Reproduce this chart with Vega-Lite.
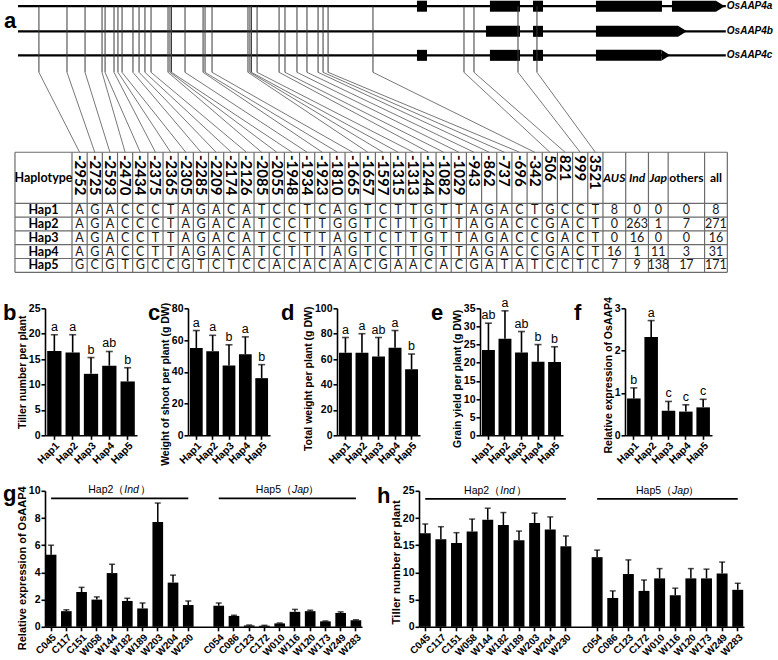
{
"$schema":"https://vega.github.io/schema/vega-lite/v6.json",
"padding":{"left":3,"top":0,"right":0,"bottom":0},
"background":"white",
"config":{"view":{"stroke":null},
 "axis":{"labelFont":"Liberation Sans","titleFont":"Liberation Sans","labelFontWeight":"bold","titleFontWeight":"bold","labelColor":"black","titleColor":"black","domainColor":"black","tickColor":"black","domainWidth":1.6,"tickWidth":1.6,"tickSize":4,"grid":false,"labelFontSize":10.5,"titleFontSize":10.5,"titlePadding":1,"labelPadding":1},
 "text":{"font":"Liberation Sans","color":"black"}},
"datasets":{
 "genes":[{"gene":"OsAAP4a","track":-13.78,"start":-3.06,"end":43.6},{"gene":"OsAAP4b","track":-11.96,"start":-3.06,"end":43.6},{"gene":"OsAAP4c","track":-10.22,"start":-3.06,"end":43.6}],
 "exons":[{"gene":"a","track":-13.78,"start":23.24,"end":23.9},{"gene":"a","track":-13.78,"start":28.05,"end":30.03},{"gene":"a","track":-13.78,"start":30.89,"end":31.55},{"gene":"a","track":-13.78,"start":35.04,"end":39.39},{"gene":"a","track":-13.78,"start":40.05,"end":42.95},
  {"gene":"b","track":-11.96,"start":27.79,"end":30.03},{"gene":"b","track":-11.96,"start":30.89,"end":31.55},{"gene":"b","track":-11.96,"start":35.04,"end":40.45},
  {"gene":"c","track":-10.22,"start":23.24,"end":23.9},{"gene":"c","track":-10.22,"start":28.05,"end":30.03},{"gene":"c","track":-10.22,"start":30.89,"end":31.55},{"gene":"c","track":-10.22,"start":35.04,"end":39.35}],
 "tips":[{"gene":"a","track":-13.78,"base":42.95},{"gene":"b","track":-11.96,"base":40.45},{"gene":"c","track":-10.22,"base":39.35}],
 "snps":[
  {"col":1,"snp":"-2952","diag":-1.68,"Hap1":"A","Hap2":"A","Hap3":"A","Hap4":"A","Hap5":"G"},
  {"col":2,"snp":"-2725","diag":0.17,"Hap1":"G","Hap2":"G","Hap3":"G","Hap4":"G","Hap5":"C"},
  {"col":3,"snp":"-2593","diag":1.36,"Hap1":"A","Hap2":"A","Hap3":"A","Hap4":"A","Hap5":"G"},
  {"col":4,"snp":"-2470","diag":2.48,"Hap1":"C","Hap2":"C","Hap3":"C","Hap4":"C","Hap5":"T"},
  {"col":5,"snp":"-2434","diag":2.68,"Hap1":"C","Hap2":"C","Hap3":"C","Hap4":"C","Hap5":"G"},
  {"col":6,"snp":"-2375","diag":3.27,"Hap1":"C","Hap2":"C","Hap3":"T","Hap4":"T","Hap5":"C"},
  {"col":7,"snp":"-2365","diag":3.53,"Hap1":"T","Hap2":"T","Hap3":"T","Hap4":"T","Hap5":"C"},
  {"col":8,"snp":"-2305","diag":3.8,"Hap1":"A","Hap2":"A","Hap3":"A","Hap4":"A","Hap5":"G"},
  {"col":9,"snp":"-2285","diag":4.52,"Hap1":"G","Hap2":"G","Hap3":"G","Hap4":"G","Hap5":"T"},
  {"col":10,"snp":"-2209","diag":4.92,"Hap1":"A","Hap2":"A","Hap3":"A","Hap4":"A","Hap5":"C"},
  {"col":11,"snp":"-2174","diag":5.31,"Hap1":"C","Hap2":"C","Hap3":"C","Hap4":"C","Hap5":"T"},
  {"col":12,"snp":"-2126","diag":5.71,"Hap1":"A","Hap2":"A","Hap3":"A","Hap4":"A","Hap5":"C"},
  {"col":13,"snp":"-2085","diag":6.83,"Hap1":"T","Hap2":"T","Hap3":"T","Hap4":"T","Hap5":"C"},
  {"col":14,"snp":"-2055","diag":6.96,"Hap1":"C","Hap2":"C","Hap3":"C","Hap4":"C","Hap5":"A"},
  {"col":15,"snp":"-1948","diag":7.06,"Hap1":"C","Hap2":"C","Hap3":"C","Hap4":"T","Hap5":"C"},
  {"col":16,"snp":"-1934","diag":7.95,"Hap1":"T","Hap2":"T","Hap3":"T","Hap4":"T","Hap5":"A"},
  {"col":17,"snp":"-1923","diag":9.14,"Hap1":"C","Hap2":"T","Hap3":"T","Hap4":"T","Hap5":"C"},
  {"col":18,"snp":"-1810","diag":9.27,"Hap1":"A","Hap2":"G","Hap3":"A","Hap4":"A","Hap5":"A"},
  {"col":19,"snp":"-1665","diag":9.73,"Hap1":"G","Hap2":"G","Hap3":"G","Hap4":"G","Hap5":"A"},
  {"col":20,"snp":"-1657","diag":12.1,"Hap1":"T","Hap2":"T","Hap3":"T","Hap4":"T","Hap5":"C"},
  {"col":21,"snp":"-1597","diag":12.23,"Hap1":"C","Hap2":"C","Hap3":"C","Hap4":"C","Hap5":"G"},
  {"col":22,"snp":"-1315","diag":12.33,"Hap1":"T","Hap2":"T","Hap3":"T","Hap4":"T","Hap5":"A"},
  {"col":23,"snp":"-1313","diag":12.7,"Hap1":"T","Hap2":"T","Hap3":"T","Hap4":"T","Hap5":"A"},
  {"col":24,"snp":"-1244","diag":14.15,"Hap1":"G","Hap2":"G","Hap3":"G","Hap4":"G","Hap5":"C"},
  {"col":25,"snp":"-1082","diag":14.54,"Hap1":"T","Hap2":"T","Hap3":"T","Hap4":"T","Hap5":"A"},
  {"col":26,"snp":"-1029","diag":15.33,"Hap1":"T","Hap2":"T","Hap3":"T","Hap4":"T","Hap5":"C"},
  {"col":27,"snp":"-943","diag":15.99,"Hap1":"A","Hap2":"A","Hap3":"A","Hap4":"A","Hap5":"G"},
  {"col":28,"snp":"-862","diag":16.72,"Hap1":"G","Hap2":"G","Hap3":"G","Hap4":"G","Hap5":"A"},
  {"col":29,"snp":"-737","diag":17.05,"Hap1":"A","Hap2":"A","Hap3":"A","Hap4":"A","Hap5":"T"},
  {"col":30,"snp":"-696","diag":17.38,"Hap1":"C","Hap2":"C","Hap3":"C","Hap4":"C","Hap5":"A"},
  {"col":31,"snp":"-342","diag":20.34,"Hap1":"T","Hap2":"C","Hap3":"C","Hap4":"C","Hap5":"T"},
  {"col":32,"snp":"506","diag":26.34,"Hap1":"G","Hap2":"G","Hap3":"G","Hap4":"G","Hap5":"C"},
  {"col":33,"snp":"821","diag":27.0,"Hap1":"C","Hap2":"A","Hap3":"A","Hap4":"A","Hap5":"C"},
  {"col":34,"snp":"999","diag":29.9,"Hap1":"C","Hap2":"C","Hap3":"C","Hap4":"C","Hap5":"T"},
  {"col":35,"snp":"3521","diag":31.15,"Hap1":"T","Hap2":"T","Hap3":"T","Hap4":"T","Hap5":"C"}],
 "haps":[{"hap":"Hap1","row":1},{"hap":"Hap2","row":2},{"hap":"Hap3","row":3},{"hap":"Hap4","row":4},{"hap":"Hap5","row":5}],
 "groups":[{"group":"AUS","col":36.25,"italic":true},{"group":"Ind","col":37.75,"italic":true},{"group":"Jap","col":39.15,"italic":true},{"group":"others","col":41.0,"italic":false},{"group":"all","col":42.95,"italic":false}],
 "counts":[{"hap":"Hap1","row":1,"AUS":8,"Ind":0,"Jap":0,"others":0,"all":8},{"hap":"Hap2","row":2,"AUS":0,"Ind":263,"Jap":1,"others":7,"all":271},{"hap":"Hap3","row":3,"AUS":0,"Ind":16,"Jap":0,"others":0,"all":16},{"hap":"Hap4","row":4,"AUS":16,"Ind":1,"Jap":11,"others":3,"all":31},{"hap":"Hap5","row":5,"AUS":7,"Ind":9,"Jap":138,"others":17,"all":171}],
 "vbounds":[{"b":-3.26},{"b":0.5},{"b":1.5},{"b":2.5},{"b":3.5},{"b":4.5},{"b":5.5},{"b":6.5},{"b":7.5},{"b":8.5},{"b":9.5},{"b":10.5},{"b":11.5},{"b":12.5},{"b":13.5},{"b":14.5},{"b":15.5},{"b":16.5},{"b":17.5},{"b":18.5},{"b":19.5},{"b":20.5},{"b":21.5},{"b":22.5},{"b":23.5},{"b":24.5},{"b":25.5},{"b":26.5},{"b":27.5},{"b":28.5},{"b":29.5},{"b":30.5},{"b":31.5},{"b":32.5},{"b":33.5},{"b":34.5},{"b":35.5},{"b":37.0},{"b":38.5},{"b":39.8},{"b":42.2},{"b":43.7}],
 "hbounds":[{"b":-3.2},{"b":0.5},{"b":1.5},{"b":2.5},{"b":3.5},{"b":4.5},{"b":5.5}],
 "gg":[{"left":"Hap2（","it":"Ind","from":"C045","to":"W230","mid":"W144"},{"left":"Hap5（","it":"Jap","from":"C054","to":"W283","mid":"W010"}]
},
"vconcat":[
 {"width":733,"height":273,
  "layer":[
   {"data":{"name":"genes"},"mark":{"type":"rule","color":"black","strokeWidth":2.2},
    "encoding":{"x":{"field":"start","type":"quantitative","scale":{"domain":[-1.28,47.04],"nice":false,"zero":false},"axis":null},"x2":{"field":"end"},
     "y":{"field":"track","type":"quantitative","scale":{"domain":[-14.23,5.55],"reverse":true,"nice":false,"zero":false},"axis":null}}},
   {"data":{"name":"genes"},"mark":{"type":"text","align":"left","baseline":"middle","dx":1,"fontSize":10,"fontStyle":"italic","fontWeight":"bold"},
    "encoding":{"x":{"field":"end","type":"quantitative","scale":{"domain":[-1.28,47.04],"nice":false,"zero":false},"axis":null},
     "y":{"field":"track","type":"quantitative","scale":{"domain":[-14.23,5.55],"reverse":true,"nice":false,"zero":false},"axis":null},"text":{"field":"gene"}}},
   {"data":{"name":"exons"},"mark":{"type":"rule","color":"black","strokeWidth":11,"strokeCap":"butt"},
    "encoding":{"x":{"field":"start","type":"quantitative","scale":{"domain":[-1.28,47.04],"nice":false,"zero":false},"axis":null},"x2":{"field":"end"},
     "y":{"field":"track","type":"quantitative","scale":{"domain":[-14.23,5.55],"reverse":true,"nice":false,"zero":false},"axis":null}}},
   {"data":{"name":"tips"},"mark":{"type":"point","shape":"M0,-1L1.6,0L0,1Z","size":121,"filled":true,"color":"black","opacity":1,"strokeWidth":0},
    "encoding":{"x":{"field":"base","type":"quantitative","scale":{"domain":[-1.28,47.04],"nice":false,"zero":false},"axis":null},
     "y":{"field":"track","type":"quantitative","scale":{"domain":[-14.23,5.55],"reverse":true,"nice":false,"zero":false},"axis":null}}},
   {"data":{"name":"snps"},"mark":{"type":"rule","color":"#3a3a3a","strokeWidth":1},
    "encoding":{"x":{"field":"diag","type":"quantitative","scale":{"domain":[-1.28,47.04],"nice":false,"zero":false},"axis":null},
     "y":{"datum":-13.78,"type":"quantitative","scale":{"domain":[-14.23,5.55],"reverse":true,"nice":false,"zero":false},"axis":null},"y2":{"datum":-8.99}}},
   {"data":{"name":"snps"},"mark":{"type":"rule","color":"#555555","strokeWidth":0.8},
    "encoding":{"x":{"field":"diag","type":"quantitative","scale":{"domain":[-1.28,47.04],"nice":false,"zero":false},"axis":null},"x2":{"field":"col"},
     "y":{"datum":-8.99,"type":"quantitative","scale":{"domain":[-14.23,5.55],"reverse":true,"nice":false,"zero":false},"axis":null},"y2":{"datum":-3.2}}},
   {"data":{"name":"vbounds"},"mark":{"type":"rule","color":"#6b6b6b","strokeWidth":1.2},
    "encoding":{"x":{"field":"b","type":"quantitative","scale":{"domain":[-1.28,47.04],"nice":false,"zero":false},"axis":null},
     "y":{"datum":-3.2,"type":"quantitative","scale":{"domain":[-14.23,5.55],"reverse":true,"nice":false,"zero":false},"axis":null},"y2":{"datum":5.5}}},
   {"data":{"name":"hbounds"},"mark":{"type":"rule","color":"#6b6b6b","strokeWidth":1.2},
    "encoding":{"y":{"field":"b","type":"quantitative","scale":{"domain":[-14.23,5.55],"reverse":true,"nice":false,"zero":false},"axis":null},
     "x":{"datum":-3.26,"type":"quantitative","scale":{"domain":[-1.28,47.04],"nice":false,"zero":false},"axis":null},"x2":{"datum":43.7}}},
   {"data":{"name":"snps"},"mark":{"type":"text","angle":90,"align":"left","baseline":"middle","font":"Lato","fontWeight":"bold","fontSize":15},
    "encoding":{"x":{"field":"col","type":"quantitative","scale":{"domain":[-1.28,47.04],"nice":false,"zero":false},"axis":null},
     "y":{"datum":-3.0,"type":"quantitative","scale":{"domain":[-14.23,5.55],"reverse":true,"nice":false,"zero":false},"axis":null},"text":{"field":"snp"}}},
   {"data":{"name":"snps"},
    "transform":[{"fold":["Hap1","Hap2","Hap3","Hap4","Hap5"],"as":["hap","base"]},{"lookup":"hap","from":{"data":{"name":"haps"},"key":"hap","fields":["row"]}}],
    "mark":{"type":"text","align":"center","baseline":"middle","font":"Lato","fontSize":12.5,"color":"#1a1a1a"},
    "encoding":{"x":{"field":"col","type":"quantitative","scale":{"domain":[-1.28,47.04],"nice":false,"zero":false},"axis":null},
     "y":{"field":"row","type":"quantitative","scale":{"domain":[-14.23,5.55],"reverse":true,"nice":false,"zero":false},"axis":null},"text":{"field":"base"}}},
   {"data":{"values":[{}]},"mark":{"type":"text","text":"Haplotype","align":"center","baseline":"middle","font":"Lato","fontWeight":"bold","fontSize":12.5},
    "encoding":{"x":{"datum":-1.38,"type":"quantitative","scale":{"domain":[-1.28,47.04],"nice":false,"zero":false},"axis":null},
     "y":{"datum":-1.35,"type":"quantitative","scale":{"domain":[-14.23,5.55],"reverse":true,"nice":false,"zero":false},"axis":null}}},
   {"data":{"name":"haps"},"mark":{"type":"text","align":"center","baseline":"middle","font":"Lato","fontWeight":"bold","fontSize":12.5},
    "encoding":{"x":{"datum":-1.38,"type":"quantitative","scale":{"domain":[-1.28,47.04],"nice":false,"zero":false},"axis":null},
     "y":{"field":"row","type":"quantitative","scale":{"domain":[-14.23,5.55],"reverse":true,"nice":false,"zero":false},"axis":null},"text":{"field":"hap"}}},
   {"data":{"name":"groups"},"transform":[{"filter":"datum.italic"}],"mark":{"type":"text","align":"center","baseline":"middle","font":"Lato","fontWeight":"bold","fontStyle":"italic","fontSize":12},
    "encoding":{"x":{"field":"col","type":"quantitative","scale":{"domain":[-1.28,47.04],"nice":false,"zero":false},"axis":null},
     "y":{"datum":-1.35,"type":"quantitative","scale":{"domain":[-14.23,5.55],"reverse":true,"nice":false,"zero":false},"axis":null},"text":{"field":"group"}}},
   {"data":{"name":"groups"},"transform":[{"filter":"!datum.italic"}],"mark":{"type":"text","align":"center","baseline":"middle","font":"Lato","fontWeight":"bold","fontSize":12},
    "encoding":{"x":{"field":"col","type":"quantitative","scale":{"domain":[-1.28,47.04],"nice":false,"zero":false},"axis":null},
     "y":{"datum":-1.35,"type":"quantitative","scale":{"domain":[-14.23,5.55],"reverse":true,"nice":false,"zero":false},"axis":null},"text":{"field":"group"}}},
   {"data":{"name":"counts"},
    "transform":[{"fold":["AUS","Ind","Jap","others","all"],"as":["group","n"]},{"lookup":"group","from":{"data":{"name":"groups"},"key":"group","fields":["col"]}}],
    "mark":{"type":"text","align":"center","baseline":"middle","font":"Lato","fontSize":12.5,"color":"#1a1a1a"},
    "encoding":{"x":{"field":"col","type":"quantitative","scale":{"domain":[-1.28,47.04],"nice":false,"zero":false},"axis":null},
     "y":{"field":"row","type":"quantitative","scale":{"domain":[-14.23,5.55],"reverse":true,"nice":false,"zero":false},"axis":null},"text":{"field":"n"}}},
   {"data":{"values":[{}]},"mark":{"type":"text","text":"a","align":"left","baseline":"alphabetic","fontSize":22,"fontWeight":"bold"},
    "encoding":{"x":{"datum":-3.98,"type":"quantitative","scale":{"domain":[-1.28,47.04],"nice":false,"zero":false},"axis":null},
     "y":{"datum":-12.18,"type":"quantitative","scale":{"domain":[-14.23,5.55],"reverse":true,"nice":false,"zero":false},"axis":null}}}
  ]},
 {"vconcat":[
 {"hconcat":[
  {"width":92,"height":127,
   "data":{"values":[{"hap":"Hap1","mean":16.6,"upper":19.8,"letter":"a"},{"hap":"Hap2","mean":16.3,"upper":19.8,"letter":"a"},{"hap":"Hap3","mean":12.1,"upper":15.3,"letter":"b"},{"hap":"Hap4","mean":13.7,"upper":16.5,"letter":"ab"},{"hap":"Hap5","mean":10.6,"upper":13.3,"letter":"b"}]},
   "layer":[
    {"mark":{"type":"bar","color":"black"},"encoding":{"x":{"field":"hap","type":"nominal","sort":null,"title":null,"scale":{"paddingInner":0.22,"paddingOuter":0.12},"axis":{"labelAngle":-45}},"y":{"field":"mean","type":"quantitative","scale":{"domain":[0,25],"nice":false},"axis":{"values":[0,5,10,15,20,25],"title":"Tiller number per plant"}}}},
    {"mark":{"type":"rule","color":"black","strokeWidth":1.6},"encoding":{"x":{"field":"hap","type":"nominal","sort":null,"title":null},"y":{"field":"mean","type":"quantitative","scale":{"domain":[0,25],"nice":false},"axis":{"values":[0,5,10,15,20,25],"title":"Tiller number per plant"}},"y2":{"field":"upper"}}},
    {"mark":{"type":"tick","color":"black","thickness":1.6,"size":7},"encoding":{"x":{"field":"hap","type":"nominal","sort":null,"title":null},"y":{"field":"upper","type":"quantitative","scale":{"domain":[0,25],"nice":false},"axis":{"values":[0,5,10,15,20,25],"title":"Tiller number per plant"}}}},
    {"mark":{"type":"text","baseline":"bottom","dy":-1,"fontSize":12.5},"encoding":{"x":{"field":"hap","type":"nominal","sort":null,"title":null},"y":{"field":"upper","type":"quantitative","scale":{"domain":[0,25],"nice":false},"axis":{"values":[0,5,10,15,20,25],"title":"Tiller number per plant"}},"text":{"field":"letter"}}},
    {"data":{"values":[{}]},"mark":{"type":"text","text":"b","align":"left","baseline":"alphabetic","dx":-51.3,"dy":12,"fontSize":22,"fontWeight":"bold"},"encoding":{"x":{"datum":"Hap1","type":"nominal","title":null},"y":{"datum":25,"type":"quantitative","scale":{"domain":[0,25],"nice":false},"axis":{"values":[0,5,10,15,20,25],"title":"Tiller number per plant"}}}}
   ]},
  {"width":82,"height":127,
   "data":{"values":[{"hap":"Hap1","mean":55,"upper":66,"letter":"a"},{"hap":"Hap2","mean":53,"upper":63,"letter":"a"},{"hap":"Hap3","mean":44,"upper":57,"letter":"b"},{"hap":"Hap4","mean":51,"upper":62,"letter":"a"},{"hap":"Hap5","mean":36,"upper":44.5,"letter":"b"}]},
   "layer":[
    {"mark":{"type":"bar","color":"black"},"encoding":{"x":{"field":"hap","type":"nominal","sort":null,"title":null,"scale":{"paddingInner":0.22,"paddingOuter":0.12},"axis":{"labelAngle":-45}},"y":{"field":"mean","type":"quantitative","scale":{"domain":[0,80],"nice":false},"axis":{"values":[0,20,40,60,80],"title":"Weight of shoot per plant (g DW)","titleY":75.5}}}},
    {"mark":{"type":"rule","color":"black","strokeWidth":1.6},"encoding":{"x":{"field":"hap","type":"nominal","sort":null,"title":null},"y":{"field":"mean","type":"quantitative","scale":{"domain":[0,80],"nice":false},"axis":{"values":[0,20,40,60,80],"title":"Weight of shoot per plant (g DW)","titleY":75.5}},"y2":{"field":"upper"}}},
    {"mark":{"type":"tick","color":"black","thickness":1.6,"size":7},"encoding":{"x":{"field":"hap","type":"nominal","sort":null,"title":null},"y":{"field":"upper","type":"quantitative","scale":{"domain":[0,80],"nice":false},"axis":{"values":[0,20,40,60,80],"title":"Weight of shoot per plant (g DW)","titleY":75.5}}}},
    {"mark":{"type":"text","baseline":"bottom","dy":-1,"fontSize":12.5},"encoding":{"x":{"field":"hap","type":"nominal","sort":null,"title":null},"y":{"field":"upper","type":"quantitative","scale":{"domain":[0,80],"nice":false},"axis":{"values":[0,20,40,60,80],"title":"Weight of shoot per plant (g DW)","titleY":75.5}},"text":{"field":"letter"}}},
    {"data":{"values":[{}]},"mark":{"type":"text","text":"c","align":"left","baseline":"alphabetic","dx":-48.3,"dy":12,"fontSize":22,"fontWeight":"bold"},"encoding":{"x":{"datum":"Hap1","type":"nominal","title":null},"y":{"datum":80,"type":"quantitative","scale":{"domain":[0,80],"nice":false},"axis":{"values":[0,20,40,60,80],"title":"Weight of shoot per plant (g DW)","titleY":75.5}}}}
   ]},
  {"width":83,"height":127,
   "data":{"values":[{"hap":"Hap1","mean":65,"upper":77,"letter":"a"},{"hap":"Hap2","mean":65,"upper":80,"letter":"a"},{"hap":"Hap3","mean":62,"upper":77,"letter":"ab"},{"hap":"Hap4","mean":69,"upper":82.5,"letter":"a"},{"hap":"Hap5","mean":52,"upper":64,"letter":"b"}]},
   "layer":[
    {"mark":{"type":"bar","color":"black"},"encoding":{"x":{"field":"hap","type":"nominal","sort":null,"title":null,"scale":{"paddingInner":0.22,"paddingOuter":0.12},"axis":{"labelAngle":-45}},"y":{"field":"mean","type":"quantitative","scale":{"domain":[0,100],"nice":false},"axis":{"values":[0,20,40,60,80,100],"title":"Total weight per plant (g DW)","titleY":70}}}},
    {"mark":{"type":"rule","color":"black","strokeWidth":1.6},"encoding":{"x":{"field":"hap","type":"nominal","sort":null,"title":null},"y":{"field":"mean","type":"quantitative","scale":{"domain":[0,100],"nice":false},"axis":{"values":[0,20,40,60,80,100],"title":"Total weight per plant (g DW)","titleY":70}},"y2":{"field":"upper"}}},
    {"mark":{"type":"tick","color":"black","thickness":1.6,"size":7},"encoding":{"x":{"field":"hap","type":"nominal","sort":null,"title":null},"y":{"field":"upper","type":"quantitative","scale":{"domain":[0,100],"nice":false},"axis":{"values":[0,20,40,60,80,100],"title":"Total weight per plant (g DW)","titleY":70}}}},
    {"mark":{"type":"text","baseline":"bottom","dy":-1,"fontSize":12.5},"encoding":{"x":{"field":"hap","type":"nominal","sort":null,"title":null},"y":{"field":"upper","type":"quantitative","scale":{"domain":[0,100],"nice":false},"axis":{"values":[0,20,40,60,80,100],"title":"Total weight per plant (g DW)","titleY":70}},"text":{"field":"letter"}}},
    {"data":{"values":[{}]},"mark":{"type":"text","text":"d","align":"left","baseline":"alphabetic","dx":-64.4,"dy":12,"fontSize":22,"fontWeight":"bold"},"encoding":{"x":{"datum":"Hap1","type":"nominal","title":null},"y":{"datum":100,"type":"quantitative","scale":{"domain":[0,100],"nice":false},"axis":{"values":[0,20,40,60,80,100],"title":"Total weight per plant (g DW)","titleY":70}}}}
   ]},
  {"width":83,"height":127,
   "data":{"values":[{"hap":"Hap1","mean":23.5,"upper":30.9,"letter":"ab"},{"hap":"Hap2","mean":26.6,"upper":34.3,"letter":"a"},{"hap":"Hap3","mean":22.8,"upper":28.6,"letter":"ab"},{"hap":"Hap4","mean":20.3,"upper":25.0,"letter":"b"},{"hap":"Hap5","mean":20.2,"upper":24.4,"letter":"b"}]},
   "layer":[
    {"mark":{"type":"bar","color":"black"},"encoding":{"x":{"field":"hap","type":"nominal","sort":null,"title":null,"scale":{"paddingInner":0.22,"paddingOuter":0.12},"axis":{"labelAngle":-45}},"y":{"field":"mean","type":"quantitative","scale":{"domain":[0,35],"nice":false},"axis":{"values":[0,5,10,15,20,25,30,35],"title":"Grain yield per plant (g DW)","titleY":70}}}},
    {"mark":{"type":"rule","color":"black","strokeWidth":1.6},"encoding":{"x":{"field":"hap","type":"nominal","sort":null,"title":null},"y":{"field":"mean","type":"quantitative","scale":{"domain":[0,35],"nice":false},"axis":{"values":[0,5,10,15,20,25,30,35],"title":"Grain yield per plant (g DW)","titleY":70}},"y2":{"field":"upper"}}},
    {"mark":{"type":"tick","color":"black","thickness":1.6,"size":7},"encoding":{"x":{"field":"hap","type":"nominal","sort":null,"title":null},"y":{"field":"upper","type":"quantitative","scale":{"domain":[0,35],"nice":false},"axis":{"values":[0,5,10,15,20,25,30,35],"title":"Grain yield per plant (g DW)","titleY":70}}}},
    {"mark":{"type":"text","baseline":"bottom","dy":-1,"fontSize":12.5},"encoding":{"x":{"field":"hap","type":"nominal","sort":null,"title":null},"y":{"field":"upper","type":"quantitative","scale":{"domain":[0,35],"nice":false},"axis":{"values":[0,5,10,15,20,25,30,35],"title":"Grain yield per plant (g DW)","titleY":70}},"text":{"field":"letter"}}},
    {"data":{"values":[{}]},"mark":{"type":"text","text":"e","align":"left","baseline":"alphabetic","dx":-57.4,"dy":12,"fontSize":22,"fontWeight":"bold"},"encoding":{"x":{"datum":"Hap1","type":"nominal","title":null},"y":{"datum":35,"type":"quantitative","scale":{"domain":[0,35],"nice":false},"axis":{"values":[0,5,10,15,20,25,30,35],"title":"Grain yield per plant (g DW)","titleY":70}}}}
   ]},
  {"width":87,"height":127,
   "data":{"values":[{"hap":"Hap1","mean":0.87,"upper":1.12,"letter":"b"},{"hap":"Hap2","mean":2.32,"upper":2.71,"letter":"a"},{"hap":"Hap3","mean":0.58,"upper":0.8,"letter":"c"},{"hap":"Hap4","mean":0.56,"upper":0.72,"letter":"c"},{"hap":"Hap5","mean":0.66,"upper":0.85,"letter":"c"}]},
   "layer":[
    {"mark":{"type":"bar","color":"black"},"encoding":{"x":{"field":"hap","type":"nominal","sort":null,"title":null,"scale":{"paddingInner":0.22,"paddingOuter":0.12},"axis":{"labelAngle":-45}},"y":{"field":"mean","type":"quantitative","scale":{"domain":[0,3],"nice":false},"axis":{"values":[0,1,2,3],"title":"Relative expression of OsAAP4","titleY":66.5}}}},
    {"mark":{"type":"rule","color":"black","strokeWidth":1.6},"encoding":{"x":{"field":"hap","type":"nominal","sort":null,"title":null},"y":{"field":"mean","type":"quantitative","scale":{"domain":[0,3],"nice":false},"axis":{"values":[0,1,2,3],"title":"Relative expression of OsAAP4","titleY":66.5}},"y2":{"field":"upper"}}},
    {"mark":{"type":"tick","color":"black","thickness":1.6,"size":7},"encoding":{"x":{"field":"hap","type":"nominal","sort":null,"title":null},"y":{"field":"upper","type":"quantitative","scale":{"domain":[0,3],"nice":false},"axis":{"values":[0,1,2,3],"title":"Relative expression of OsAAP4","titleY":66.5}}}},
    {"mark":{"type":"text","baseline":"bottom","dy":-1,"fontSize":12.5},"encoding":{"x":{"field":"hap","type":"nominal","sort":null,"title":null},"y":{"field":"upper","type":"quantitative","scale":{"domain":[0,3],"nice":false},"axis":{"values":[0,1,2,3],"title":"Relative expression of OsAAP4","titleY":66.5}},"text":{"field":"letter"}}},
    {"data":{"values":[{}]},"mark":{"type":"text","text":"f","align":"left","baseline":"alphabetic","dx":-59.8,"dy":12,"fontSize":22,"fontWeight":"bold"},"encoding":{"x":{"datum":"Hap1","type":"nominal","title":null},"y":{"datum":3,"type":"quantitative","scale":{"domain":[0,3],"nice":false},"axis":{"values":[0,1,2,3],"title":"Relative expression of OsAAP4","titleY":66.5}}}}
   ]}
 ],"spacing":11},
 {"hconcat":[
  {"width":317,"height":136,
   "data":{"values":[{"line":"C045","mean":5.3,"upper":6.0},{"line":"C117","mean":1.15,"upper":1.25},{"line":"C151","mean":2.55,"upper":2.9},{"line":"W058","mean":2.0,"upper":2.2},{"line":"W144","mean":3.95,"upper":4.6},{"line":"W182","mean":1.9,"upper":2.1},{"line":"W189","mean":1.35,"upper":1.75},{"line":"W203","mean":7.7,"upper":9.1},{"line":"W204","mean":3.25,"upper":3.8},{"line":"W230","mean":1.6,"upper":1.9},
     {"line":"C054","mean":1.55,"upper":1.75},{"line":"C086","mean":0.8,"upper":0.85},{"line":"C123","mean":0.1,"upper":0.13},{"line":"C172","mean":0.08,"upper":0.11},{"line":"W010","mean":0.25,"upper":0.28},{"line":"W116","mean":1.1,"upper":1.28},{"line":"W120","mean":1.15,"upper":1.22},{"line":"W173","mean":0.4,"upper":0.43},{"line":"W249","mean":1.02,"upper":1.1},{"line":"W283","mean":0.48,"upper":0.52}]},
   "layer":[
    {"mark":{"type":"bar","color":"black"},"encoding":{"x":{"field":"line","type":"nominal","title":null,"scale":{"domain":["C045","C117","C151","W058","W144","W182","W189","W203","W204","W230"," ","C054","C086","C123","C172","W010","W116","W120","W173","W249","W283"],"paddingInner":0.3,"paddingOuter":0.05},"axis":{"labelAngle":-45,"labelFontSize":10,"values":["C045","C117","C151","W058","W144","W182","W189","W203","W204","W230","C054","C086","C123","C172","W010","W116","W120","W173","W249","W283"]}},
      "y":{"field":"mean","type":"quantitative","scale":{"domain":[0,10],"nice":false},"axis":{"values":[0,2,4,6,8,10],"title":"Relative expression of OsAAP4","titleFontSize":11,"titleY":77}}}},
    {"mark":{"type":"rule","color":"black","strokeWidth":1.5},"encoding":{"x":{"field":"line","type":"nominal","title":null},"y":{"field":"mean","type":"quantitative","scale":{"domain":[0,10],"nice":false},"axis":{"values":[0,2,4,6,8,10],"title":"Relative expression of OsAAP4","titleFontSize":11,"titleY":77}},"y2":{"field":"upper"}}},
    {"mark":{"type":"tick","color":"black","thickness":1.5,"size":6},"encoding":{"x":{"field":"line","type":"nominal","title":null},"y":{"field":"upper","type":"quantitative","scale":{"domain":[0,10],"nice":false},"axis":{"values":[0,2,4,6,8,10],"title":"Relative expression of OsAAP4","titleFontSize":11,"titleY":77}}}},
    {"data":{"name":"gg"},"mark":{"type":"rule","color":"black","strokeWidth":1.8},"encoding":{"x":{"field":"from","type":"nominal","title":null},"x2":{"field":"to"},"y":{"datum":9.45,"type":"quantitative","scale":{"domain":[0,10],"nice":false},"axis":{"values":[0,2,4,6,8,10],"title":"Relative expression of OsAAP4","titleFontSize":11,"titleY":77}}}},
    {"data":{"name":"gg"},"mark":{"type":"text","align":"right","baseline":"bottom","dx":4.7,"dy":-3,"fontSize":10.5},"encoding":{"x":{"field":"mid","type":"nominal","title":null,"bandPosition":1.21},"y":{"datum":9.45,"type":"quantitative","scale":{"domain":[0,10],"nice":false},"axis":{"values":[0,2,4,6,8,10],"title":"Relative expression of OsAAP4","titleFontSize":11,"titleY":77}},"text":{"field":"left"}}},
    {"data":{"name":"gg"},"mark":{"type":"text","align":"left","baseline":"bottom","dx":4.7,"dy":-3,"fontSize":10.5,"fontStyle":"italic"},"encoding":{"x":{"field":"mid","type":"nominal","title":null,"bandPosition":1.21},"y":{"datum":9.45,"type":"quantitative","scale":{"domain":[0,10],"nice":false},"axis":{"values":[0,2,4,6,8,10],"title":"Relative expression of OsAAP4","titleFontSize":11,"titleY":77}},"text":{"field":"it"}}},
    {"data":{"name":"gg"},"mark":{"type":"text","text":"）","align":"left","baseline":"bottom","dx":20.3,"dy":-3,"fontSize":10.5},"encoding":{"x":{"field":"mid","type":"nominal","title":null,"bandPosition":1.21},"y":{"datum":9.45,"type":"quantitative","scale":{"domain":[0,10],"nice":false},"axis":{"values":[0,2,4,6,8,10],"title":"Relative expression of OsAAP4","titleFontSize":11,"titleY":77}}}},
    {"data":{"values":[{}]},"mark":{"type":"text","text":"g","align":"left","baseline":"alphabetic","dx":-48,"dy":10,"fontSize":22,"fontWeight":"bold"},"encoding":{"x":{"datum":"C045","type":"nominal","title":null},"y":{"datum":10,"type":"quantitative","scale":{"domain":[0,10],"nice":false},"axis":{"values":[0,2,4,6,8,10],"title":"Relative expression of OsAAP4","titleFontSize":11,"titleY":77}}}}
   ]},
  {"width":325,"height":136,
   "data":{"values":[{"line":"C045","mean":17.2,"upper":18.9},{"line":"C117","mean":16.1,"upper":18.4},{"line":"C151","mean":15.4,"upper":17.3},{"line":"W058","mean":17.5,"upper":19.8},{"line":"W144","mean":19.7,"upper":21.8},{"line":"W182","mean":18.7,"upper":21.0},{"line":"W189","mean":15.9,"upper":17.6},{"line":"W203","mean":19.1,"upper":20.9},{"line":"W204","mean":17.9,"upper":20.2},{"line":"W230","mean":14.8,"upper":16.7},
     {"line":"C054","mean":12.8,"upper":14.1},{"line":"C086","mean":5.3,"upper":6.6},{"line":"C123","mean":9.7,"upper":12.3},{"line":"C172","mean":6.6,"upper":8.6},{"line":"W010","mean":8.9,"upper":10.7},{"line":"W116","mean":5.8,"upper":7.1},{"line":"W120","mean":8.9,"upper":10.7},{"line":"W173","mean":8.9,"upper":10.6},{"line":"W249","mean":9.8,"upper":11.9},{"line":"W283","mean":6.8,"upper":8.0}]},
   "layer":[
    {"mark":{"type":"bar","color":"black"},"encoding":{"x":{"field":"line","type":"nominal","title":null,"scale":{"domain":["C045","C117","C151","W058","W144","W182","W189","W203","W204","W230"," ","C054","C086","C123","C172","W010","W116","W120","W173","W249","W283"],"paddingInner":0.3,"paddingOuter":0.05},"axis":{"labelAngle":-45,"labelFontSize":10,"values":["C045","C117","C151","W058","W144","W182","W189","W203","W204","W230","C054","C086","C123","C172","W010","W116","W120","W173","W249","W283"]}},
      "y":{"field":"mean","type":"quantitative","scale":{"domain":[0,25],"nice":false},"axis":{"values":[0,5,10,15,20,25],"title":"Tiller number per plant","titleFontSize":11.5,"titleY":71}}}},
    {"mark":{"type":"rule","color":"black","strokeWidth":1.5},"encoding":{"x":{"field":"line","type":"nominal","title":null},"y":{"field":"mean","type":"quantitative","scale":{"domain":[0,25],"nice":false},"axis":{"values":[0,5,10,15,20,25],"title":"Tiller number per plant","titleFontSize":11.5,"titleY":71}},"y2":{"field":"upper"}}},
    {"mark":{"type":"tick","color":"black","thickness":1.5,"size":6},"encoding":{"x":{"field":"line","type":"nominal","title":null},"y":{"field":"upper","type":"quantitative","scale":{"domain":[0,25],"nice":false},"axis":{"values":[0,5,10,15,20,25],"title":"Tiller number per plant","titleFontSize":11.5,"titleY":71}}}},
    {"data":{"name":"gg"},"mark":{"type":"rule","color":"black","strokeWidth":1.8},"encoding":{"x":{"field":"from","type":"nominal","title":null},"x2":{"field":"to"},"y":{"datum":23.5,"type":"quantitative","scale":{"domain":[0,25],"nice":false},"axis":{"values":[0,5,10,15,20,25],"title":"Tiller number per plant","titleFontSize":11.5,"titleY":71}}}},
    {"data":{"name":"gg"},"mark":{"type":"text","align":"right","baseline":"bottom","dx":4.7,"dy":-3,"fontSize":10.5},"encoding":{"x":{"field":"mid","type":"nominal","title":null,"bandPosition":1.21},"y":{"datum":23.5,"type":"quantitative","scale":{"domain":[0,25],"nice":false},"axis":{"values":[0,5,10,15,20,25],"title":"Tiller number per plant","titleFontSize":11.5,"titleY":71}},"text":{"field":"left"}}},
    {"data":{"name":"gg"},"mark":{"type":"text","align":"left","baseline":"bottom","dx":4.7,"dy":-3,"fontSize":10.5,"fontStyle":"italic"},"encoding":{"x":{"field":"mid","type":"nominal","title":null,"bandPosition":1.21},"y":{"datum":23.5,"type":"quantitative","scale":{"domain":[0,25],"nice":false},"axis":{"values":[0,5,10,15,20,25],"title":"Tiller number per plant","titleFontSize":11.5,"titleY":71}},"text":{"field":"it"}}},
    {"data":{"name":"gg"},"mark":{"type":"text","text":"）","align":"left","baseline":"bottom","dx":20.3,"dy":-3,"fontSize":10.5},"encoding":{"x":{"field":"mid","type":"nominal","title":null,"bandPosition":1.21},"y":{"datum":23.5,"type":"quantitative","scale":{"domain":[0,25],"nice":false},"axis":{"values":[0,5,10,15,20,25],"title":"Tiller number per plant","titleFontSize":11.5,"titleY":71}}}},
    {"data":{"values":[{}]},"mark":{"type":"text","text":"h","align":"left","baseline":"alphabetic","dx":-48.25,"dy":12,"fontSize":22,"fontWeight":"bold"},"encoding":{"x":{"datum":"C045","type":"nominal","title":null},"y":{"datum":25,"type":"quantitative","scale":{"domain":[0,25],"nice":false},"axis":{"values":[0,5,10,15,20,25],"title":"Tiller number per plant","titleFontSize":11.5,"titleY":71}}}}
   ]}
 ],"spacing":14}
 ],"spacing":16.5}
],
"spacing":23.3
}
